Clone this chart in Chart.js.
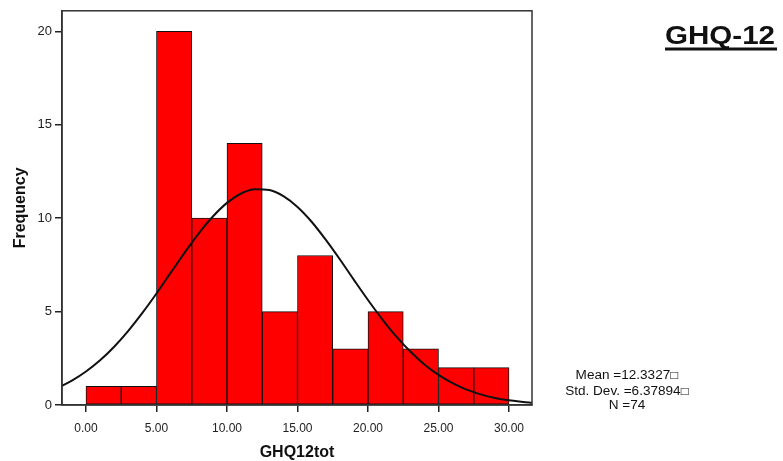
<!DOCTYPE html>
<html>
<head>
<meta charset="utf-8">
<script src="https://cdn.jsdelivr.net/npm/chart.js@4/dist/chart.umd.min.js"></script>
<style>
  html, body { margin: 0; padding: 0; background: #fff; }
  #wrap { width: 783px; height: 461px; position: relative; }
</style>
</head>
<body>
<div id="wrap"><canvas id="c" width="783" height="461"></canvas></div>
<script>
// ---- data ----
const binStarts = [0, 2.5, 5, 7.5, 10, 12.5, 15, 17.5, 20, 22.5, 25, 27.5];
const binWidth = 2.5;
const frequencies = [1, 1, 20, 10, 14, 5, 8, 3, 5, 3, 2, 2];
const curveX = [-1.7, -1, 0, 1, 2, 3, 4, 5, 6, 7, 8, 9, 10, 11, 12, 13, 14, 15, 16, 17, 18, 19, 20, 21, 22, 23, 24, 25, 26, 27, 28, 29, 30, 31, 31.63];
const curveY = [1.03, 1.30, 1.79, 2.39, 3.12, 3.97, 4.93, 5.97, 7.07, 8.16, 9.19, 10.09, 10.82, 11.32, 11.55, 11.51, 11.18, 10.60, 9.81, 8.85, 7.80, 6.70, 5.62, 4.60, 3.67, 2.86, 2.17, 1.61, 1.17, 0.82, 0.57, 0.38, 0.25, 0.16, 0.12];
const xTicks = [0, 5, 10, 15, 20, 25, 30];
const yTicks = [0, 5, 10, 15, 20];
const chartTitle = 'GHQ-12';
const xTitle = 'GHQ12tot';
const yTitle = 'Frequency';
const statLines = ['Mean =12.3327\u25A1', 'Std. Dev. =6.37894\u25A1', 'N =74'];

const FONT = '"Liberation Sans", Arial, Helvetica, sans-serif';

const barData = binStarts.map((s, i) => ({ x: s + binWidth / 2, y: frequencies[i] }));
const lineData = curveX.map((x, i) => ({ x: x, y: curveY[i] }));

const bgPlugin = {
  id: 'bg',
  beforeDraw(chart) {
    const ctx = chart.ctx;
    ctx.save();
    ctx.fillStyle = '#fff';
    ctx.fillRect(0, 0, chart.width, chart.height);
    ctx.restore();
  }
};

const framePlugin = {
  id: 'frame',
  afterDraw(chart) {
    const ctx = chart.ctx;
    const a = chart.chartArea;
    ctx.save();
    ctx.strokeStyle = '#333';
    ctx.lineWidth = 1.5;
    ctx.strokeRect(a.left, a.top, a.right - a.left, a.bottom - a.top);

    // title
    ctx.fillStyle = '#111';
    ctx.font = 'bold 26px ' + FONT;
    ctx.textBaseline = 'alphabetic';
    ctx.textAlign = 'left';
    const tw = ctx.measureText(chartTitle).width;
    const targetW = 110;
    ctx.save();
    ctx.translate(665, 43.5);
    ctx.scale(targetW / tw, 1);
    ctx.fillText(chartTitle, 0, 0);
    ctx.restore();
    ctx.fillRect(665, 47.5, 112, 3);

    // stats
    ctx.font = '12px ' + FONT;
    ctx.textAlign = 'center';
    const baselines = [379, 394.5, 408.5];
    statLines.forEach((t, i) => {
      ctx.save();
      ctx.translate(627, baselines[i]);
      ctx.scale(1.13, 1);
      ctx.fillText(t, 0, 0);
      ctx.restore();
    });
    ctx.restore();
  }
};

new Chart(document.getElementById('c'), {
  type: 'bar',
  data: {
    datasets: [
      {
        type: 'line',
        data: lineData,
        borderColor: '#111',
        borderWidth: 2,
        pointRadius: 0,
        cubicInterpolationMode: 'monotone',
        fill: false,
        order: 0
      },
      {
        type: 'bar',
        data: barData,
        backgroundColor: '#ff0000',
        borderColor: '#111',
        borderWidth: 1,
        borderSkipped: false,
        barPercentage: 1,
        categoryPercentage: 1,
        order: 1
      }
    ]
  },
  options: {
    responsive: false,
    animation: false,
    devicePixelRatio: 1,
    layout: { padding: { top: 9.5, right: 251, left: 0, bottom: 0 } },
    plugins: {
      legend: { display: false },
      tooltip: { enabled: false },
      title: { display: false }
    },
    scales: {
      x: {
        type: 'linear',
        min: -1.7,
        max: 31.63,
        offset: false,
        grid: { offset: false, drawOnChartArea: false, drawTicks: true, tickLength: 7, color: '#222', lineWidth: 1.5 },
        border: { display: true, color: '#333', width: 1.5 },
        afterBuildTicks(scale) { scale.ticks = xTicks.map(v => ({ value: v })); },
        afterFit(scale) { scale.height = 56; },
        ticks: {
          autoSkip: false,
          maxRotation: 0,
          padding: 9,
          color: '#222',
          font: { family: FONT, size: 12 },
          callback: (v) => Number(v).toFixed(2)
        },
        title: {
          display: true,
          text: xTitle,
          color: '#111',
          font: { family: FONT, size: 16, weight: 'bold', lineHeight: 1 },
          padding: { top: 0, bottom: 0 }
        }
      },
      y: {
        type: 'linear',
        min: 0,
        max: 21.1,
        grid: { drawOnChartArea: false, drawTicks: true, tickLength: 7, color: '#222', lineWidth: 1.5 },
        border: { display: true, color: '#333', width: 1.5 },
        afterBuildTicks(scale) { scale.ticks = yTicks.map(v => ({ value: v })); },
        afterFit(scale) { scale.width = 62; },
        ticks: {
          autoSkip: false,
          padding: 3,
          color: '#222',
          font: { family: FONT, size: 13 },
          callback: (v) => String(v)
        },
        title: {
          display: true,
          text: yTitle,
          color: '#111',
          font: { family: FONT, size: 16, weight: 'bold', lineHeight: 1 },
          padding: { top: 13, bottom: 0 }
        }
      }
    }
  },
  plugins: [bgPlugin, framePlugin]
});
</script>
</body>
</html>
